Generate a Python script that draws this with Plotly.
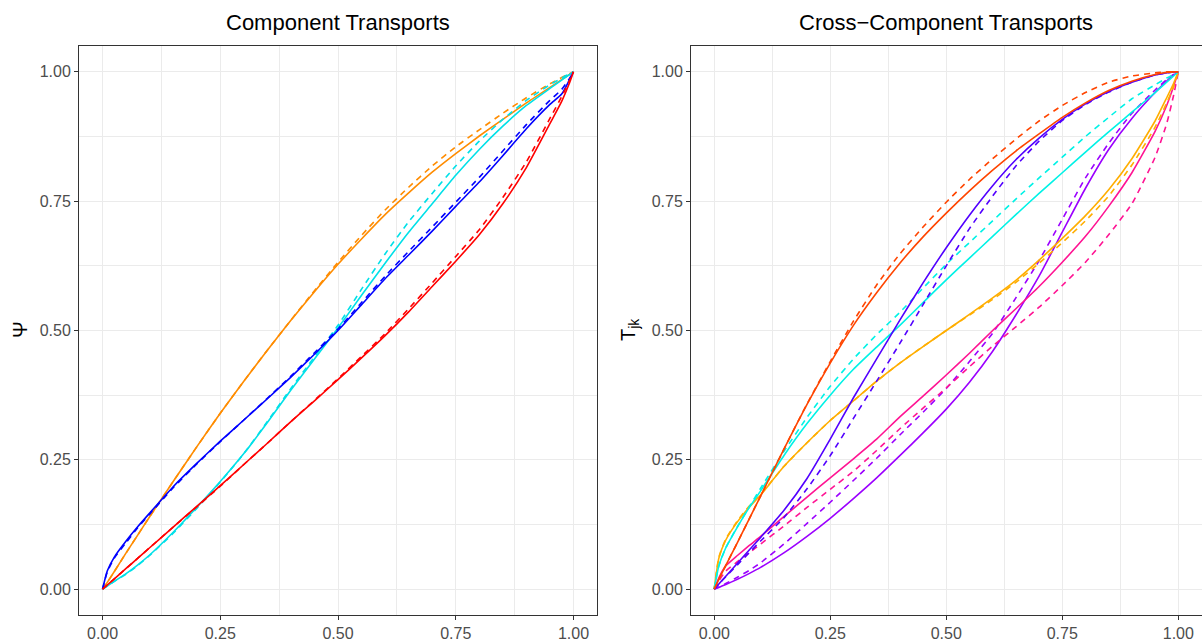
import plotly.graph_objects as go

# shared evaluation grid for both panels
x_grid = [0, 0.01, 0.025, 0.05, 0.075, 0.1, 0.15, 0.2, 0.25, 0.3, 0.35, 0.4, 0.45, 0.5,
          0.55, 0.6, 0.65, 0.7, 0.75, 0.8, 0.85, 0.9, 0.95, 0.975, 0.99, 1.0]

# ---- Component transports (left panel): solid = fitted, dashed = reference ----
orange_fit = [0, .013, .034, .07, .105, .14, .208, .275, .34, .402, .462, .52, .575, .628,
              .677, .724, .766, .806, .842, .876, .908, .94, .97, .985, .994, 1]
orange_ref = [0, .013, .034, .07, .105, .14, .208, .275, .34, .402, .462, .52, .577, .632,
              .684, .733, .777, .818, .855, .888, .92, .95, .977, .989, .996, 1]
blue_fit = [0, .035, .062, .093, .121, .147, .198, .243, .286, .327, .368, .41, .454, .5,
            .55, .6, .646, .692, .74, .787, .838, .89, .937, .957, .982, 1]
blue_ref = [0, .033, .06, .09, .119, .145, .196, .242, .285, .327, .369, .412, .457, .503,
            .554, .605, .653, .7, .748, .796, .847, .898, .945, .966, .985, 1]
cyan_fit = [0, .006, .015, .03, .047, .066, .11, .158, .208, .262, .322, .385, .445, .505,
            .568, .63, .69, .745, .8, .85, .895, .935, .968, .984, .994, 1]
cyan_ref = [0, .006, .015, .029, .046, .065, .108, .156, .207, .262, .324, .388, .449, .51,
            .58, .648, .71, .765, .818, .866, .908, .945, .975, .988, .996, 1]
red_fit = [0, .008, .02, .04, .06, .08, .12, .16, .2, .241, .282, .324, .364, .405,
           .447, .49, .536, .585, .634, .685, .745, .815, .9, .943, .975, 1]
red_ref = [0, .008, .02, .04, .06, .08, .12, .159, .199, .241, .282, .324, .365, .407,
           .45, .494, .542, .592, .643, .695, .757, .826, .91, .952, .98, 1]

# ---- Cross-component transports (right panel) ----
orangered_fit = [0, .019, .046, .09, .135, .18, .27, .357, .437, .51, .573, .63, .681, .727,
                 .77, .81, .847, .88, .912, .94, .964, .982, .995, .999, 1, 1]
orangered_ref = [0, .019, .046, .09, .135, .18, .27, .358, .44, .518, .588, .648, .7, .748,
                 .792, .832, .87, .905, .935, .96, .98, .992, .998, 1, 1, 1]
violet_fit = [0, .01, .025, .05, .075, .1, .152, .214, .29, .37, .445, .52, .592, .66,
              .723, .78, .83, .872, .908, .938, .962, .98, .994, .998, 1, 1]
violet_ref = [0, .01, .024, .047, .07, .093, .138, .194, .258, .33, .402, .475, .55, .625,
              .697, .76, .818, .866, .906, .937, .961, .98, .994, .998, 1, 1]
aqua_fit = [0, .045, .08, .12, .157, .19, .258, .32, .375, .425, .468, .51, .554, .598,
            .64, .682, .724, .765, .805, .845, .884, .922, .96, .98, .992, 1]
aqua_ref = [0, .045, .08, .121, .158, .195, .266, .332, .392, .445, .492, .535, .582, .628,
            .67, .712, .754, .795, .835, .875, .912, .948, .975, .988, .995, 1]
amber_fit = [0, .06, .095, .13, .158, .182, .237, .283, .326, .364, .402, .437, .469, .5,
             .531, .563, .597, .636, .678, .722, .772, .832, .905, .95, .978, 1]
amber_ref = [0, .062, .097, .132, .16, .183, .237, .283, .326, .364, .402, .437, .469, .5,
             .53, .56, .593, .63, .67, .712, .76, .82, .893, .94, .972, 1]
pink_fit = [0, .022, .045, .065, .084, .102, .14, .178, .215, .252, .29, .333, .373, .414,
            .456, .5, .542, .585, .632, .682, .74, .805, .885, .935, .972, 1]
pink_ref = [0, .016, .035, .053, .07, .087, .122, .158, .193, .228, .268, .31, .35, .389,
            .43, .47, .507, .545, .587, .632, .685, .745, .835, .9, .955, 1]
purple_fit = [0, .003, .009, .019, .03, .042, .07, .102, .137, .175, .215, .258, .302, .348,
              .4, .46, .53, .605, .69, .775, .85, .91, .96, .982, .994, 1]
purple_ref = [0, .004, .011, .023, .036, .051, .087, .127, .168, .21, .253, .298, .342, .388,
              .44, .495, .563, .635, .715, .795, .862, .92, .965, .985, .995, 1]

tick_vals = [0, 0.25, 0.5, 0.75, 1.0]
tick_text = ["0.00", "0.25", "0.50", "0.75", "1.00"]

left_series = [
    (orange_fit, orange_ref, "#FF8C00"),
    (cyan_fit, cyan_ref, "#00E0E8"),
    (blue_fit, blue_ref, "#0000FF"),
    (red_fit, red_ref, "#FF0000"),
]
right_series = [
    (purple_fit, purple_ref, "#9B00FF"),
    (pink_fit, pink_ref, "#FF1493"),
    (amber_fit, amber_ref, "#FFAE00"),
    (aqua_fit, aqua_ref, "#00F2E6"),
    (violet_fit, violet_ref, "#5200FF"),
    (orangered_fit, orangered_ref, "#FF4500"),
]

FONT = "Liberation Sans, Arial, sans-serif"
W, H = 1202, 644
fig = go.Figure()


def add_pair(fit, ref, color, xa, ya):
    fig.add_trace(go.Scatter(x=x_grid, y=ref, mode="lines", xaxis=xa, yaxis=ya,
                             line=dict(color=color, width=1.6, dash="6px,5px",
                                       shape="spline", smoothing=0.5),
                             showlegend=False, hoverinfo="skip"))
    fig.add_trace(go.Scatter(x=x_grid, y=fit, mode="lines", xaxis=xa, yaxis=ya,
                             line=dict(color=color, width=1.6, shape="spline", smoothing=0.5),
                             showlegend=False, hoverinfo="skip"))


for fit, ref, col in left_series:
    add_pair(fit, ref, col, "x", "y")
for fit, ref, col in right_series:
    add_pair(fit, ref, col, "x2", "y2")

axis_common = dict(
    range=[-0.05, 1.05], tickvals=tick_vals, ticktext=tick_text,
    showgrid=True, gridcolor="#EBEBEB", gridwidth=1.1,
    minor=dict(dtick=0.125, tick0=0, showgrid=True, gridcolor="#EBEBEB", gridwidth=0.55, ticks=""),
    zeroline=False, showline=True, linecolor="#333333", linewidth=1, mirror=True,
    ticks="outside", ticklen=4, tickcolor="#333333", tickwidth=1,
    tickfont=dict(family=FONT, size=16, color="#4D4D4D"),
    fixedrange=True,
)

y_dom = [1 - 615 / H, 1 - 46 / H]
fig.update_layout(
    width=W, height=H,
    margin=dict(l=0, r=0, t=0, b=0),
    paper_bgcolor="white", plot_bgcolor="white",
    xaxis=dict(domain=[79 / W, 597 / W], anchor="y", **axis_common),
    yaxis=dict(domain=y_dom, anchor="x", **axis_common),
    xaxis2=dict(domain=[691 / W, 1201.5 / W], anchor="y2", **axis_common),
    yaxis2=dict(domain=y_dom, anchor="x2", **axis_common),
    font=dict(family=FONT, color="black"),
    annotations=[
        dict(text="Component Transports", x=338 / W, y=1 - 23 / H, xref="paper", yref="paper",
             xanchor="center", yanchor="middle", showarrow=False,
             font=dict(size=22, color="black", family=FONT)),
        dict(text="Cross\u2212Component Transports", x=946 / W, y=1 - 23 / H, xref="paper", yref="paper",
             xanchor="center", yanchor="middle", showarrow=False,
             font=dict(size=22, color="black", family=FONT)),
        dict(text="\u03a8", x=20 / W, y=1 - 330 / H, xref="paper", yref="paper",
             xanchor="center", yanchor="middle", showarrow=False, textangle=-90,
             font=dict(size=20, color="black", family=FONT)),
        dict(text="T<sub>jk</sub>", x=629 / W, y=1 - 330 / H, xref="paper", yref="paper",
             xanchor="center", yanchor="middle", showarrow=False, textangle=-90,
             font=dict(size=20, color="black", family=FONT)),
    ],
)

fig.write_html("out.html")
